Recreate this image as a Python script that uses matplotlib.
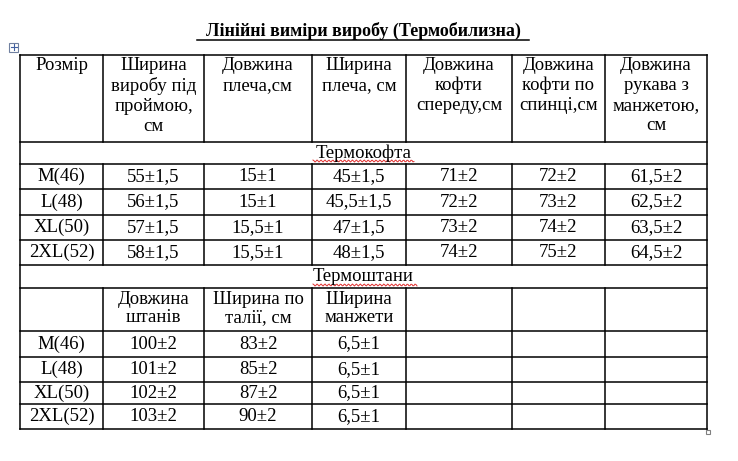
import matplotlib
matplotlib.use("Agg")
import matplotlib.pyplot as plt
import numpy as np

title = "Лінійні виміри виробу (Термобилизна)"
top_header = ["Розмір", "Ширина\nвиробу під\nпроймою,\nсм", "Довжина\nплеча,см", "Ширина\nплеча, см",
              "Довжина\nкофти\nспереду,см", "Довжина\nкофти по\nспинці,см", "Довжина\nрукава з\nманжетою,\nсм"]
sizes = ["M(46)", "L(48)", "XL(50)", "2XL(52)"]
jacket = [["55±1,5", "15±1", "45±1,5", "71±2", "72±2", "61,5±2"],
          ["56±1,5", "15±1", "45,5±1,5", "72±2", "73±2", "62,5±2"],
          ["57±1,5", "15,5±1", "47±1,5", "73±2", "74±2", "63,5±2"],
          ["58±1,5", "15,5±1", "48±1,5", "74±2", "75±2", "64,5±2"]]
pants_header = ["", "Довжина\nштанів", "Ширина по\nталії, см", "Ширина\nманжети", "", "", ""]
pants = [["100±2", "83±2", "6,5±1"],
         ["101±2", "85±2", "6,5±1"],
         ["102±2", "87±2", "6,5±1"],
         ["103±2", "90±2", "6,5±1"]]
sec1, sec2 = "Термокофта", "Термоштани"

W, H = 738, 461
fig = plt.figure(figsize=(W/100, H/100), dpi=100)
ax = fig.add_axes([0, 0, 1, 1])
ax.set_xlim(0, W); ax.set_ylim(H, 0); ax.axis("off")
FONT = "Liberation Serif"
FS = 13.5

cx = [20, 103, 204, 312, 406, 512, 605, 707]
ry = [55, 142, 164, 189, 215, 240, 265, 288, 331, 357, 382, 404, 429]
lw = 1.1

def hl(y, x0=cx[0], x1=cx[-1]):
    ax.plot([x0, x1], [y, y], color="black", lw=lw, solid_capstyle="projecting")
def vl(x, y0, y1):
    ax.plot([x, x], [y0, y1], color="black", lw=lw, solid_capstyle="projecting")

for y in ry:
    hl(y)
for x in cx:
    if x in (cx[0], cx[-1]):
        vl(x, ry[0], ry[-1])
    else:
        vl(x, ry[0], ry[1]); vl(x, ry[2], ry[6]); vl(x, ry[7], ry[-1])

def cell(t, i, y, va="top", ls=1.15):
    ax.text((cx[i]+cx[i+1])/2, y, t, ha="center", va=va, fontsize=FS, family=FONT, linespacing=ls)

for i, t in enumerate(top_header):
    cell(t, i, ry[0]+2, ls=1.22)
ax.text((cx[0]+cx[-1])/2, (ry[1]+ry[2])/2, sec1, ha="center", va="center", fontsize=FS, family=FONT)
for r in range(4):
    yc = (ry[2+r]+ry[3+r])/2
    cell(sizes[r], 0, yc, "center")
    for j, v in enumerate(jacket[r]):
        cell(v, j+1, yc, "center")
ax.text((cx[0]+cx[-1])/2, (ry[6]+ry[7])/2, sec2, ha="center", va="center", fontsize=FS, family=FONT)
for i, t in enumerate(pants_header):
    if t:
        cell(t, i, ry[7]+3, ls=1.1)
for r in range(4):
    yc = (ry[8+r]+ry[9+r])/2
    cell(sizes[r], 0, yc, "center")
    for j, v in enumerate(pants[r]):
        cell(v, j+1, yc, "center")

# red squiggles
def squiggle(x0, x1, y):
    xs = np.linspace(x0, x1, int((x1-x0)))
    ax.plot(xs, y + 1.0*np.sin(xs*1.6), color="#e03030", lw=0.7)
squiggle(313, 414, ry[2]-3)
squiggle(313, 417, ry[7]-3)

# title
ax.text(363, 31, title, ha="center", va="center", fontsize=13, family=FONT, weight="bold")
ax.plot([197, 529], [40, 40], color="black", lw=1.1)

# move icon and resize handle
ax.add_patch(plt.Rectangle((9, 43), 9, 9, fill=False, ec="#7080a0", lw=0.8))
ax.plot([13.5, 13.5], [44.5, 50.5], color="#4060a0", lw=0.8)
ax.plot([10.5, 16.5], [47.5, 47.5], color="#4060a0", lw=0.8)
ax.add_patch(plt.Rectangle((706, 430), 4, 4, fill=False, ec="#808080", lw=0.8))

fig.savefig("out.png", dpi=100)
